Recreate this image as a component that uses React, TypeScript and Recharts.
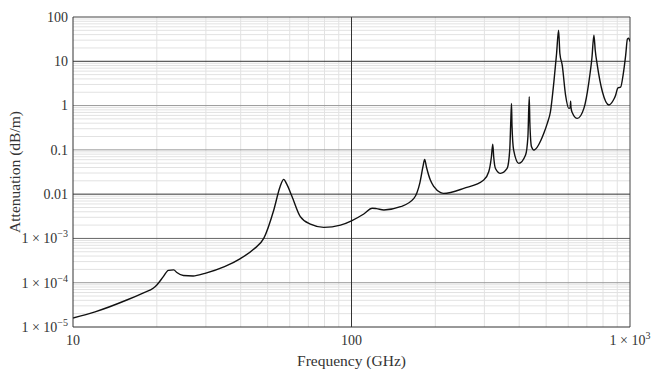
import React from 'react';
import { LineChart, Line, XAxis, YAxis, ReferenceLine } from 'recharts';

const freqGHz = [10, 12, 15.6, 18, 19.4, 20, 21.1, 22, 23, 23.6, 24.9, 27, 29.8, 35, 39.9, 44.5, 48.4, 52.6, 55.4, 57.1, 58.5, 61.2, 65.5, 71.2, 79.5, 91.3, 100, 110.7, 118.7, 123, 130.7, 150, 167.5, 176, 181, 183.1, 186, 191.9, 197.7, 209, 214, 253, 298.5, 311, 318, 321.5, 324, 328.8, 342.7, 362, 370, 373, 375.4, 377, 382, 398.8, 421.7, 430, 434.7, 437, 443, 451.6, 490.4, 504.6, 518, 533, 545, 554, 560, 571, 587, 603, 610, 612, 614, 620, 647, 683, 712, 730, 742, 750, 763, 796, 840, 870, 888, 905, 925, 945, 965, 979, 990, 1000];
const attenuation = [1.6e-5, 2.2e-5, 4.07e-5, 6.0e-5, 7.5e-5, 8.9e-5, 1.37e-4, 1.9e-4, 1.95e-4, 1.7e-4, 1.45e-4, 1.42e-4, 1.63e-4, 2.3e-4, 3.5e-4, 5.7e-4, 1.0e-3, 4.4e-3, 0.0147, 0.0216, 0.017, 8.7e-3, 3.1e-3, 2.1e-3, 1.78e-3, 2.0e-3, 2.5e-3, 3.56e-3, 4.8e-3, 4.7e-3, 4.4e-3, 5.2e-3, 8.0e-3, 0.018, 0.045, 0.061, 0.04, 0.0208, 0.0147, 0.0108, 0.0104, 0.0135, 0.0208, 0.032, 0.07, 0.135, 0.07, 0.038, 0.0295, 0.038, 0.1, 0.4, 1.12, 0.35, 0.1, 0.0496, 0.0763, 0.2, 1.58, 0.4, 0.117, 0.099, 0.236, 0.396, 0.725, 3.44, 15, 50.6, 15, 8.2, 1.72, 0.865, 0.9, 1.26, 0.9, 0.7, 0.514, 0.865, 3.44, 12, 39, 18, 8.2, 2.05, 1.03, 1.3, 1.72, 2.52, 2.6, 5, 13.8, 31.8, 33, 28];

const xTicks = [10, 100, 1000];
const yTicks = [1e-5, 1e-4, 1e-3, 0.01, 0.1, 1, 10, 100];
const yTickLabels: Record<string, [string, string]> = {
  '100': ['100', ''],
  '10': ['10', ''],
  '1': ['1', ''],
  '0.1': ['0.1', ''],
  '0.01': ['0.01', ''],
  '0.001': ['1 × 10', '−3'],
  '0.0001': ['1 × 10', '−4'],
  '0.00001': ['1 × 10', '−5'],
};
const xTickLabels: Record<string, [string, string]> = {
  '10': ['10', ''],
  '100': ['100', ''],
  '1000': ['1 × 10', '3'],
};

const data = freqGHz.map((f, i) => ({ f, a: attenuation[i] }));

const minorX: number[] = [];
const minorY: number[] = [];
[10, 100].forEach((d) => { for (let k = 2; k <= 9; k++) minorX.push(d * k); });
[1e-5, 1e-4, 1e-3, 0.01, 0.1, 1, 10].forEach((d) => { for (let k = 2; k <= 9; k++) minorY.push(+(d * k).toPrecision(3)); });

const majorYColor: Record<string, string> = {
  '10': '#333', '1': '#999', '0.1': '#999', '0.01': '#333', '0.001': '#666', '0.0001': '#999',
};

const FONT = '"Liberation Serif", "DejaVu Serif", serif';

const YTick = (props: any) => {
  const { x, y, payload } = props;
  const lab = yTickLabels[String(payload.value)] || [String(payload.value), ''];
  return (
    <text x={x + 3} y={y} dy="0.35em" textAnchor="end" fontFamily={FONT} fontSize={14} fill="#333">
      <tspan>{lab[0]}</tspan>
      {lab[1] ? <tspan dy={-6} fontSize={10}>{lab[1]}</tspan> : null}
    </text>
  );
};

const XTick = (props: any) => {
  const { x, y, payload } = props;
  const lab = xTickLabels[String(payload.value)] || [String(payload.value), ''];
  return (
    <text x={x} y={y + 10} textAnchor="middle" fontFamily={FONT} fontSize={14} fill="#333">
      <tspan>{lab[0]}</tspan>
      {lab[1] ? <tspan dy={-6} fontSize={10}>{lab[1]}</tspan> : null}
    </text>
  );
};

export default function App() {
  return (
    <div style={{ position: 'absolute', left: 0, top: 0, width: 652, height: 370, background: '#fff' }}>
      <LineChart width={652} height={370} data={data} margin={{ top: 17, right: 22, bottom: 0, left: 0 }}>
        <XAxis
          dataKey="f"
          type="number"
          scale="log"
          domain={[10, 1000]}
          ticks={xTicks}
          allowDataOverflow
          height={43}
          tickLine={false}
          axisLine={{ stroke: '#333' }}
          tick={<XTick />}
          interval={0}
          label={({ viewBox }: any) => (
            <text x={viewBox.x + viewBox.width / 2} y={viewBox.y + 38.5} textAnchor="middle" fontFamily={FONT} fontSize={15.5} fill="#333">
              Frequency (GHz)
            </text>
          )}
        />
        <YAxis
          type="number"
          scale="log"
          domain={[1e-5, 100]}
          ticks={yTicks}
          allowDataOverflow
          width={73}
          tickLine={false}
          axisLine={{ stroke: '#333' }}
          tick={<YTick />}
          interval={0}
          label={({ viewBox }: any) => {
            const cx = 15;
            const cy = viewBox.y + viewBox.height / 2;
            return (
              <text x={cx} y={cy} transform={`rotate(-90 ${cx} ${cy})`} dy="0.35em" textAnchor="middle" fontFamily={FONT} fontSize={15.5} fill="#333">
                Attenuation (dB/m)
              </text>
            );
          }}
        />
        {minorX.map((v) => (
          <ReferenceLine key={'mx' + v} x={v} stroke="#e2e2e2" strokeWidth={1} />
        ))}
        {minorY.map((v) => (
          <ReferenceLine key={'my' + v} y={v} stroke="#e2e2e2" strokeWidth={1} />
        ))}
        {Object.keys(majorYColor).map((k) => (
          <ReferenceLine key={'My' + k} y={Number(k)} stroke={majorYColor[k]} strokeWidth={1} />
        ))}
        <ReferenceLine x={100} stroke="#333" strokeWidth={1} />
        <ReferenceLine y={100} stroke="#444" strokeWidth={1} />
        <ReferenceLine x={1000} stroke="#444" strokeWidth={1} />
        <Line
          dataKey="a"
          type="monotoneX"
          stroke="#111"
          strokeWidth={1.4}
          dot={false}
          isAnimationActive={false}
        />
      </LineChart>
    </div>
  );
}
